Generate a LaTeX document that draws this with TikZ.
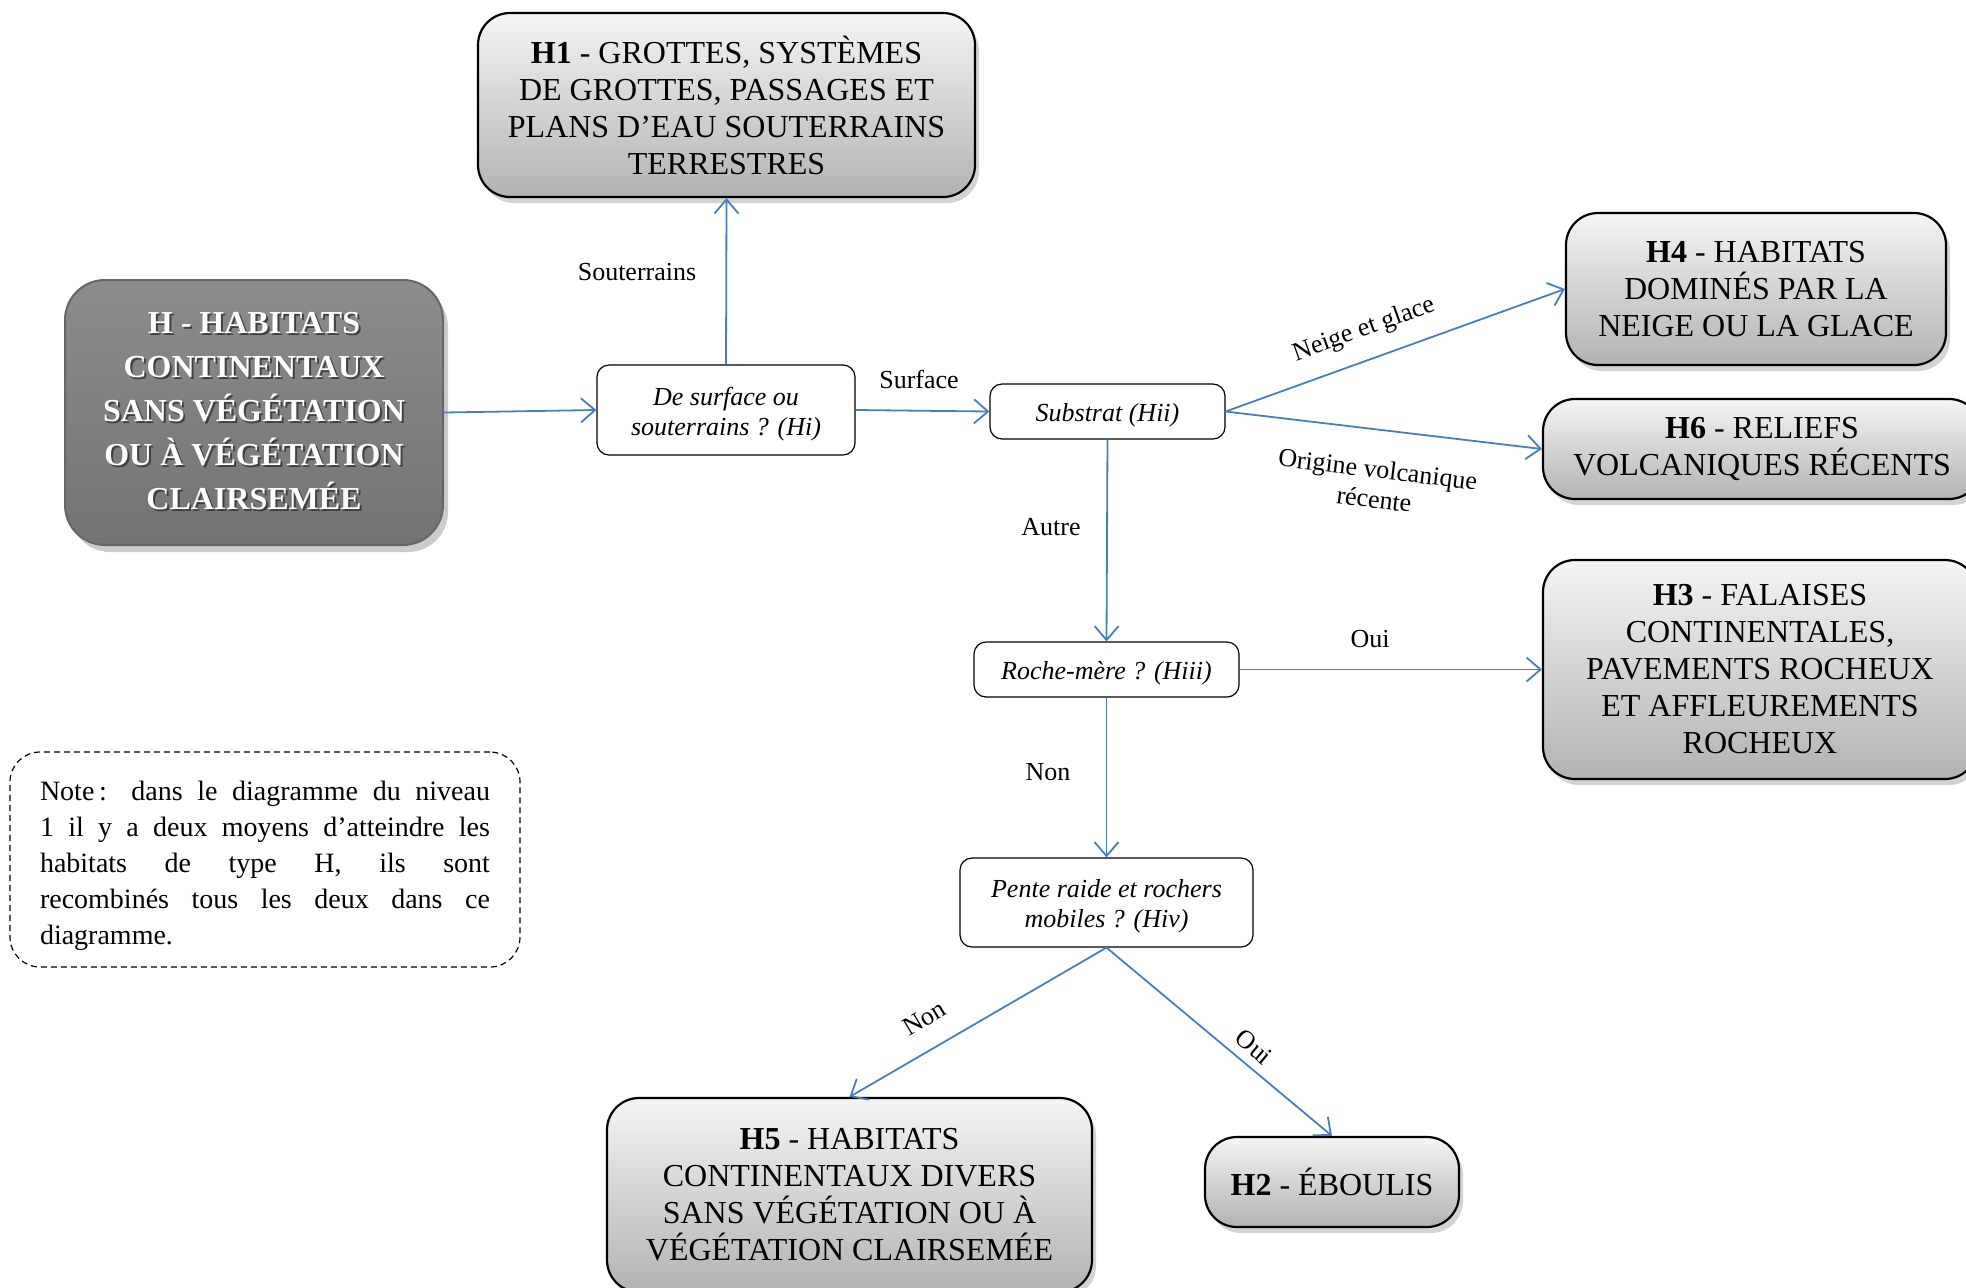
\documentclass[tikz,border=0pt]{standalone}
\usepackage{fontspec}
\setmainfont{Liberation Serif}
\usetikzlibrary{arrows.meta,shadows}

\definecolor{linkblue}{HTML}{4A7EBB}

% white lettering with a dark offset copy underneath
\newcommand{\shtxt}[1]{\makebox[0pt][l]{\hspace{1pt}\raisebox{-1pt}{\color{black!75}#1}}{\color{white}#1}}

\tikzset{
  habitat/.style={draw=black, line width=1.1pt, rounded corners=16pt,
    top color=black!4, bottom color=black!30,
    drop shadow={opacity=0.35, shadow xshift=2pt, shadow yshift=-3pt},
    align=center, inner sep=0pt, font=\fontsize{16}{18.5}\selectfont},
  rootbox/.style={draw=black!60, line width=1pt, rounded corners=20pt,
    top color=black!45, bottom color=black!55,
    drop shadow={opacity=0.4, shadow xshift=2.5pt, shadow yshift=-3.5pt},
    align=center, inner sep=0pt, font=\bfseries\fontsize{16}{22}\selectfont},
  question/.style={draw=black, line width=0.6pt, rounded corners=6pt, fill=white,
    align=center, inner sep=0pt, font=\itshape\fontsize{13}{15}\selectfont},
  oneline/.style={text height=13pt, text depth=2.9pt},
  notebox/.style={draw=black, line width=0.6pt, dash pattern=on 3pt off 2pt,
    rounded corners=15pt, inner sep=0pt},
  lbl/.style={inner sep=0pt, align=center, font=\fontsize{13}{15}\selectfont},
  link/.style={draw=linkblue, line width=0.9pt, -{Straight Barb[length=7pt,width=12pt]}},
}

\begin{document}
\begin{tikzpicture}[x=0.5pt, y=-0.5pt]
\useasboundingbox (0,0) rectangle (1966,1287);
\clip (0,0) rectangle (1966,1287);

% root habitat
\node[rootbox, minimum width=189pt, minimum height=132.5pt] (H) at (254,412.5)
  {\shtxt{H - HABITATS}\\ \shtxt{CONTINENTAUX}\\ \shtxt{SANS VÉGÉTATION}\\ \shtxt{OU À VÉGÉTATION}\\ \shtxt{CLAIRSEMÉE}};

% decision boxes
\node[question, minimum width=129pt, minimum height=45pt] (Hi) at (726,410)
  {\rule{0pt}{13pt}De surface ou\\ souterrains ? (Hi)};
\node[question, oneline, minimum width=117.5pt, minimum height=27.5pt] (Hii) at (1107.5,411.5)
  {Substrat (Hii)};
\node[question, oneline, minimum width=132.5pt, minimum height=27.5pt] (Hiii) at (1106.5,669.5)
  {Roche-mère ? (Hiii)};
\node[question, minimum width=146.5pt, minimum height=44.5pt] (Hiv) at (1106.5,902.5)
  {\rule{0pt}{13pt}Pente raide et rochers\\ mobiles ? (Hiv)};

% habitat outcomes
\node[habitat, minimum width=248.5pt, minimum height=92pt] (H1) at (726.5,105)
  {\textbf{H1} - GROTTES, SYSTÈMES\\ DE GROTTES, PASSAGES ET\\ PLANS D’EAU SOUTERRAINS\\ TERRESTRES};
\node[habitat, minimum width=190pt, minimum height=76pt] (H4) at (1756,289)
  {\textbf{H4} - HABITATS\\ DOMINÉS PAR LA\\ NEIGE OU LA GLACE};
\node[habitat, minimum width=219pt, minimum height=50pt] (H6) at (1762,449)
  {\textbf{H6} - RELIEFS\\ VOLCANIQUES RÉCENTS};
\node[habitat, minimum width=217pt, minimum height=109.5pt] (H3) at (1760,669.5)
  {\textbf{H3} - FALAISES\\ CONTINENTALES,\\ PAVEMENTS ROCHEUX\\ ET AFFLEUREMENTS\\ ROCHEUX};
\node[habitat, minimum width=242.5pt, minimum height=97pt] (H5) at (849.5,1195)
  {\textbf{H5} - HABITATS\\ CONTINENTAUX DIVERS\\ SANS VÉGÉTATION OU À\\ VÉGÉTATION CLAIRSEMÉE};
\node[habitat, minimum width=127pt, minimum height=45pt] (H2) at (1332,1182)
  {\textbf{H2} - ÉBOULIS};

% side note
\node[notebox, minimum width=255pt, minimum height=107.5pt] (note) at (265,859.5)
  {\parbox{225pt}{\vspace*{6pt}\fontsize{14}{18}\selectfont Note\,: dans le diagramme du niveau\linebreak
   1 il y a deux moyens d’atteindre les\linebreak
   habitats de type H, ils sont\linebreak
   recombinés tous les deux dans ce\linebreak
   diagramme.}};

% connectors
\draw[link] (H.east) -- (Hi.west);
\draw[link] (Hi.north) -- (H1.south);
\draw[link] (Hi.east) -- (Hii.west);
\draw[link] (Hii.east) -- (H4.west);
\draw[link] (Hii.east) -- (H6.west);
\draw[link] (Hii.south) -- (Hiii.north);
\draw[link] (Hiii.east) -- (H3.west);
\draw[link] (Hiii.south) -- (Hiv.north);
\draw[link] (Hiv.south) -- (H5.north);
\draw[link] (Hiv.south) -- (H2.north);

% branch labels
\node[lbl] (lsout) at (637,272) {Souterrains};
\node[lbl] (lsurf) at (919,379) {Surface};
\node[lbl, rotate=19.8] (lneige) at (1364,330) {Neige et glace};
\node[lbl, rotate=-7] (lvolc) at (1376,484) {Origine volcanique\\ récente};
\node[lbl] (lautre) at (1051,527) {Autre};
\node[lbl] (loui1) at (1370,639) {Oui};
\node[lbl] (lnon1) at (1048,772) {Non};
\node[lbl, rotate=30.8] (lnon2) at (924,1018) {Non};
\node[lbl, rotate=-40] (loui2) at (1254,1047) {Oui};
\end{tikzpicture}
\end{document}
